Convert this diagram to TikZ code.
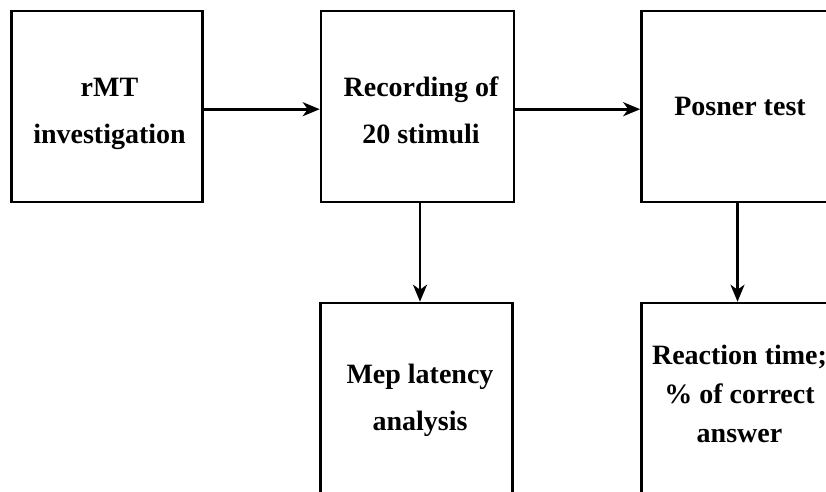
\documentclass[tikz,border=0pt]{standalone}
\usepackage{fontspec}
\setmainfont{Liberation Serif}
\usetikzlibrary{arrows.meta}
\tikzset{
  box/.style={draw=black, line width=2.6pt, rectangle, inner sep=0pt, minimum height=191pt},
  lbl/.style={anchor=base, align=center, inner sep=0pt, font={\fontsize{28}{47}\selectfont\bfseries}},
  conn/.style={line width=2.6pt, -{Stealth[length=17pt,width=14pt,inset=5pt]}}
}
\begin{document}
\begin{tikzpicture}[x=1pt,y=-1pt]
\clip (0,0) rectangle (826,491);
\useasboundingbox (0,0) rectangle (826,491);
\fill[white] (0,0) rectangle (826,491);
\node[box, minimum width=191.5pt] (b1) at (107,106.6) {};
\node[box, minimum width=193pt] (b2) at (417.5,106.6) {};
\node[box, minimum width=192pt] (b3) at (737.5,106.6) {};
\node[box, minimum width=191.5pt] (b4) at (416.5,398.5) {};
\node[box, minimum width=192pt] (b5) at (737.5,398.5) {};
\node[lbl] (t1) at (109.5,143) {rMT\\investigation};
\node[lbl] (t2) at (421,143) {Recording of\\20 stimuli};
\node[lbl] (t3) at (740,115) {Posner test};
\node[lbl] (t4) at (420,430) {Mep latency\\analysis};
\node[lbl, font={\fontsize{28}{39}\selectfont\bfseries}] (t5) at (739.5,442) {Reaction time;\\\% of correct\\answer};
\coordinate (d2) at ([xshift=2.5pt]b2.south);
\draw[conn] ([yshift=-2.6pt]b1.east) -- ([yshift=-2.6pt]b2.west);
\draw[conn] ([yshift=-2.6pt]b2.east) -- ([yshift=-2.6pt]b3.west);
\draw[conn] (d2) -- (d2 |- b4.north);
\draw[conn] (b3.south) -- (b5.north);
\end{tikzpicture}
\end{document}
